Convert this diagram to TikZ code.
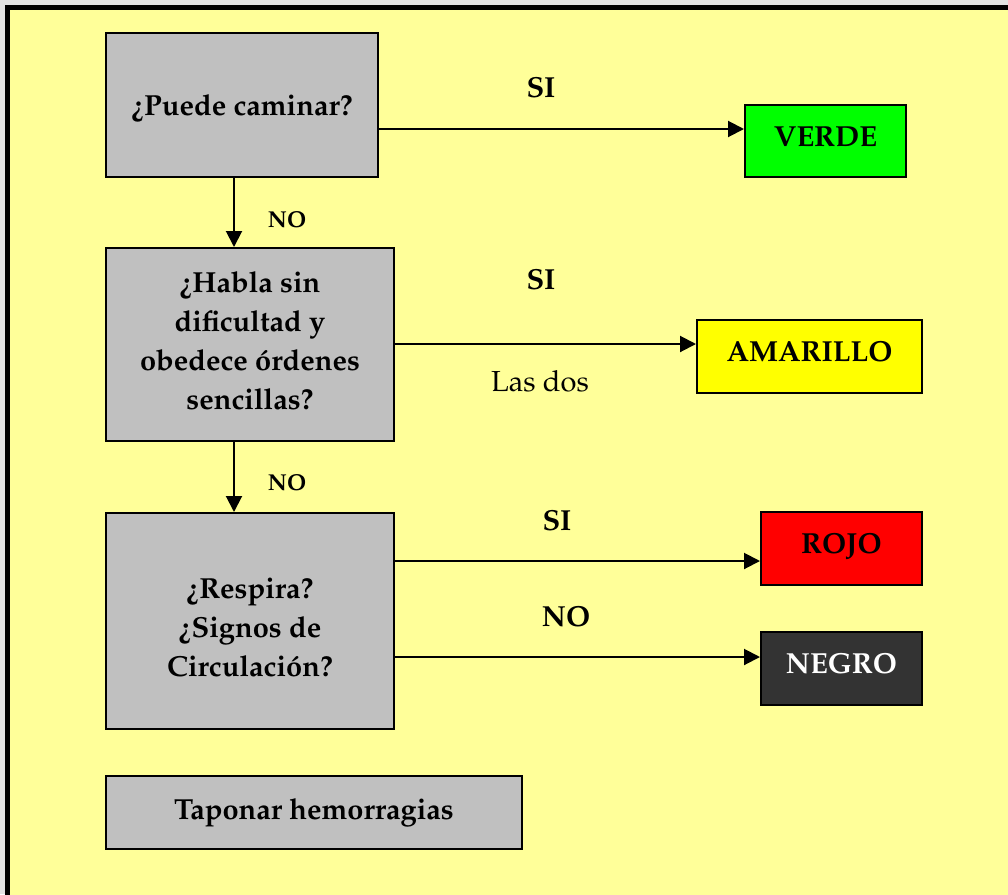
\documentclass[tikz,border=0pt]{standalone}
\usepackage[T1]{fontenc}
\renewcommand{\rmdefault}{ppl}
\usetikzlibrary{arrows.meta,calc}
\definecolor{paper}{HTML}{FFFF99}
\definecolor{boxgray}{HTML}{C0C0C0}
\definecolor{margin}{HTML}{E3E3E3}
\definecolor{verdec}{HTML}{00FF00}
\definecolor{amarilloc}{HTML}{FFFF00}
\definecolor{rojoc}{HTML}{FF0000}
\definecolor{negroc}{HTML}{333333}
\begin{document}
\begin{tikzpicture}[x=1pt,y=-1pt,
  qbox/.style={draw=black, line width=2pt, fill=boxgray, inner sep=0pt},
  cbox/.style={draw=black, line width=2pt, inner sep=0pt, text height=20pt, text depth=10pt,
    font=\fontsize{29}{35}\selectfont\bfseries},
  qtxt/.style={align=center, inner sep=0pt, font=\fontsize{29}{39}\selectfont\bfseries},
  lbl/.style={inner sep=0pt, font=\fontsize{29}{35}\selectfont\bfseries},
  nolbl/.style={inner sep=0pt, font=\fontsize{23}{28}\selectfont\bfseries},
  arr/.style={line width=2pt, -{Triangle[length=16pt,width=16pt]}},
]
\useasboundingbox (0,0) rectangle (1008,894);
\begin{scope}
\clip (0,0) rectangle (1008,894);
\fill[margin] (0,0) rectangle (1008,894);
\draw[line width=5pt, fill=paper] (7,7) rectangle (1030,920);
\end{scope}

% question boxes
\node[qbox, minimum width=272pt, minimum height=144pt] (q1) at (242,105) {};
\node[qtxt] (t1) at (242,108) {\textquestiondown Puede caminar?};
\node[qbox, minimum width=288pt, minimum height=193pt] (q2) at (250,344.5) {};
\node[qtxt] (t2) at (250,341) {\textquestiondown Habla sin\\dificultad y\\obedece \'ordenes\\sencillas?};
\node[qbox, minimum width=288pt, minimum height=216pt] (q3) at (250,621) {};
\node[qtxt] (t3) at (250,628) {\textquestiondown Respira?\\\textquestiondown Signos de\\Circulaci\'on?};
\node[qbox, minimum width=416pt, minimum height=73pt, font=\fontsize{29}{35}\selectfont\bfseries] (tap) at (314,812.5) {Taponar hemorragias};

% result boxes
\node[cbox, fill=verdec, minimum width=161pt, minimum height=72pt] (verde) at (825.5,141) {VERDE};
\node[cbox, fill=amarilloc, minimum width=225pt, minimum height=73pt] (amarillo) at (809.5,356.5) {AMARILLO};
\node[cbox, fill=rojoc, minimum width=161pt, minimum height=73pt] (rojo) at (841.5,548.5) {ROJO};
\node[cbox, fill=negroc, text=white, minimum width=161pt, minimum height=73pt] (negro) at (841.5,668.5) {NEGRO};

% connectors
\coordinate (xv) at (234,0);
\coordinate (y1) at (0,129);
\coordinate (y2) at (0,344);
\coordinate (y3) at (0,561);
\coordinate (y4) at (0,657);
\draw[arr] (q1.east |- y1) -- (verde.west |- y1);
\draw[arr] (q2.east |- y2) -- (amarillo.west |- y2);
\draw[arr] (q3.east |- y3) -- (rojo.west |- y3);
\draw[arr] (q3.east |- y4) -- (negro.west |- y4);
\draw[arr] (q1.south -| xv) -- (q2.north -| xv);
\draw[arr] (q2.south -| xv) -- (q3.north -| xv);

% labels
\node[lbl] (si1) at (541,88) {SI};
\node[lbl] (si2) at (541,280) {SI};
\node[inner sep=0pt, font=\fontsize{29}{35}\selectfont] (dos) at (540,381) {Las dos};
\node[lbl] (si3) at (557,521) {SI};
\node[lbl] (no3) at (566,617) {NO};
\node[nolbl] (no1) at (287,220) {NO};
\node[nolbl] (no2) at (287,483) {NO};
\end{tikzpicture}
\end{document}
